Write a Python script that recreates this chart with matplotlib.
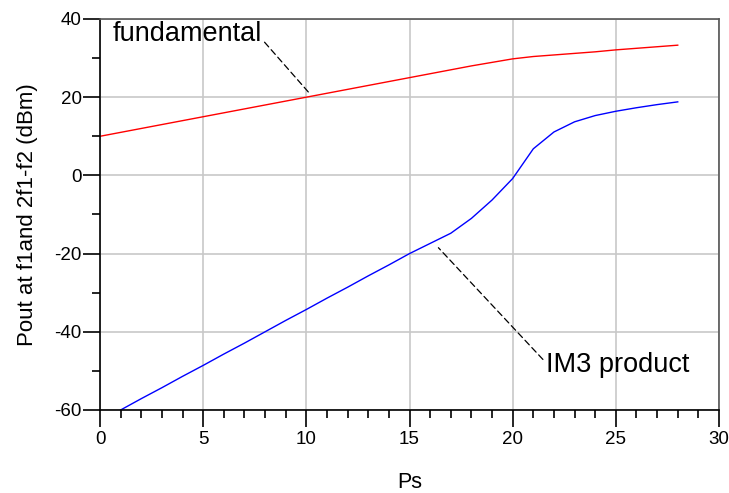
import matplotlib
matplotlib.use("Agg")
import matplotlib.pyplot as plt
from matplotlib.ticker import MultipleLocator

plt.rcParams["font.family"] = ["Liberation Sans", "DejaVu Sans"]
plt.rcParams["axes.unicode_minus"] = False

# input power sweep (dBm)
ps_fund = [0, 1, 2, 3, 4, 5, 6, 7, 8, 9, 10, 11, 12, 13, 14, 15, 16, 17, 18, 19, 20,
           21, 22, 23, 24, 25, 26, 27, 28]
pout_fund = [10, 11, 12, 13, 14, 15, 16, 17, 18, 19, 20, 21, 22, 23, 24, 25, 26, 27, 28, 28.9, 29.8,
             30.4, 30.8, 31.2, 31.6, 32.1, 32.5, 32.9, 33.3]

ps_im3 = [1, 2, 3, 4, 5, 6, 7, 8, 9, 10, 11, 12, 13, 14, 15, 16, 17, 18, 19, 20,
          21, 22, 23, 24, 25, 26, 27, 28]
pout_im3 = [-60, -57.1, -54.3, -51.4, -48.6, -45.7, -42.9, -40, -37.1, -34.3, -31.4, -28.6, -25.7, -22.9,
            -20, -17.4, -14.8, -11, -6.3, -0.8, 6.8, 11.1, 13.7, 15.3, 16.4, 17.3, 18.1, 18.8]

fig = plt.figure(figsize=(7.29, 4.93), dpi=100)
ax = fig.add_axes([0.1372, 0.1684, 0.8491, 0.7931])

ax.plot(ps_fund, pout_fund, color="red", lw=1.0)
ax.plot(ps_im3, pout_im3, color="blue", lw=1.0)

ax.set_xlim(0, 30)
ax.set_ylim(-60, 40)
ax.xaxis.set_major_locator(MultipleLocator(5))
ax.xaxis.set_minor_locator(MultipleLocator(1))
ax.yaxis.set_major_locator(MultipleLocator(20))
ax.yaxis.set_minor_locator(MultipleLocator(10))
ax.grid(True, which="major", color="#c8c8c8", lw=1.2)
ax.tick_params(which="major", length=12.2, width=1.2, labelsize=13.5, pad=3)
ax.tick_params(which="minor", length=5.8, width=1.2)
ax.tick_params(axis="y", which="major", pad=1)

for side in ["left", "bottom"]:
    ax.spines[side].set_color("black")
    ax.spines[side].set_linewidth(1.2)
for side in ["top", "right"]:
    ax.spines[side].set_color("#555555")
    ax.spines[side].set_linewidth(1.2)

ax.set_xlabel("Ps", fontsize=15.5, labelpad=17)
ax.set_ylabel("Pout at f1and 2f1-f2 (dBm)", fontsize=16, labelpad=12)

ax.annotate("fundamental", xy=(10.1, 21.3), xytext=(0.6, 36.2),
            fontsize=19.5, va="center", ha="left",
            arrowprops=dict(arrowstyle="-", ls=(0, (5, 3)), color="black", lw=0.9,
                            shrinkA=0, shrinkB=0, relpos=(1.0, 0.3)))
ax.annotate("IM3 product", xy=(16.4, -18.5), xytext=(21.6, -48.5),
            fontsize=19.5, va="center", ha="left",
            arrowprops=dict(arrowstyle="-", ls=(0, (5, 3)), color="black", lw=0.9,
                            shrinkA=0, shrinkB=0, relpos=(0.0, 0.6)))

fig.savefig("out.png", dpi=100)
